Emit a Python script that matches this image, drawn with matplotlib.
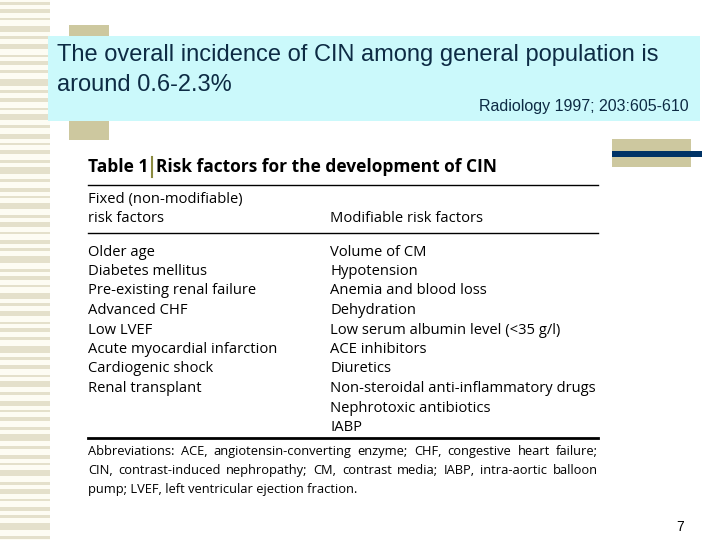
import matplotlib
matplotlib.use("Agg")
import matplotlib.pyplot as plt
from matplotlib.patches import Rectangle

# slide text
headline = ["The overall incidence of CIN among general population is",
            "around 0.6-2.3%"]
reference = "Radiology 1997; 203:605-610"
table_no = "Table 1"
table_title = "Risk factors for the development of CIN"
header_left = ["Fixed (non-modifiable)", "risk factors"]
header_right = "Modifiable risk factors"
fixed_factors = ["Older age", "Diabetes mellitus", "Pre-existing renal failure",
                 "Advanced CHF", "Low LVEF", "Acute myocardial infarction",
                 "Cardiogenic shock", "Renal transplant"]
modifiable_factors = ["Volume of CM", "Hypotension", "Anemia and blood loss",
                      "Dehydration", "Low serum albumin level (<35 g/l)",
                      "ACE inhibitors", "Diuretics",
                      "Non-steroidal anti-inflammatory drugs",
                      "Nephrotoxic antibiotics", "IABP"]
footnote = ["Abbreviations: ACE, angiotensin-converting enzyme; CHF, congestive heart failure;",
            "CIN, contrast-induced nephropathy; CM, contrast media; IABP, intra-aortic balloon",
            "pump; LVEF, left ventricular ejection fraction."]
page_no = "7"

tan = "#cdc89f"
navy = "#003366"
cyan = "#cbf9fb"
ink = "#0d2b44"
tfont = "Open Sans"
body = 10.6

fig = plt.figure(figsize=(7.2, 5.4), dpi=100)
ax = fig.add_axes([0, 0, 1, 1])
ax.set_xlim(0, 720)
ax.set_ylim(540, 0)
ax.axis("off")

# striped strip on the left
ax.add_patch(Rectangle((0, 0), 50, 540, color="#fdfcf3", lw=0))
heights = [3, 4, 2, 6, 3, 5, 2, 4, 3, 7]
y = 2
i = 0
while y < 540:
    h = heights[i % len(heights)]
    ax.add_patch(Rectangle((0, y), 50, h, color="#e4e0cb", lw=0))
    y += h + 4 + (i % 3)
    i += 1

# tan block behind the headline box
ax.add_patch(Rectangle((69, 25), 40, 115, color=tan, lw=0))
ax.add_patch(Rectangle((48, 36), 652, 85, color=cyan, lw=0))

ax.text(57, 55, headline[0], fontsize=17, family="Liberation Sans",
        color=ink, va="center")
ax.text(57, 85, headline[1], fontsize=17, family="Liberation Sans",
        color=ink, va="center")
ax.text(689, 106, reference, fontsize=11.5, family="Liberation Sans",
        color=ink, va="center", ha="right")

# right decoration
ax.add_patch(Rectangle((612, 139), 79, 28, color=tan, lw=0))
ax.add_patch(Rectangle((612, 151), 90, 6, color=navy, lw=0))

# table
x0, x1, xr = 88, 598, 330
t1 = ax.text(x0, 167, table_no, fontsize=12.5, family=tfont, weight="bold",
             va="center", color="black")
fig.canvas.draw()
r = fig.canvas.get_renderer()
inv = ax.transData.inverted()
bb = t1.get_window_extent(r)
xe = inv.transform((bb.x1, 0))[0]
ax.plot([xe + 4, xe + 4], [157, 177], color="#8a8a40", lw=1.5)
ax.text(xe + 8, 167, table_title, fontsize=12.5, family=tfont, weight="bold",
        va="center", color="black")

ax.plot([x0, x1], [185, 185], color="black", lw=1)
ax.text(x0, 200, header_left[0], fontsize=body, family=tfont, va="center")
ax.text(x0, 219, header_left[1], fontsize=body, family=tfont, va="center")
ax.text(xr, 219, header_right, fontsize=body, family=tfont, va="center")
ax.plot([x0, x1], [233, 233], color="black", lw=1)

row_y0, row_dy = 252, 19.5
for k, s in enumerate(fixed_factors):
    ax.text(x0, row_y0 + k * row_dy, s, fontsize=body, family=tfont, va="center")
for k, s in enumerate(modifiable_factors):
    ax.text(xr, row_y0 + k * row_dy, s, fontsize=body, family=tfont, va="center")

ax.plot([x0, x1], [438, 438], color="black", lw=2)


def justify(words, y, left, right, size):
    arts = [ax.text(left, y, w, fontsize=size, family=tfont, va="baseline")
            for w in words]
    fig.canvas.draw()
    widths = []
    for a in arts:
        b = a.get_window_extent(r)
        widths.append(inv.transform((b.x1, 0))[0] - inv.transform((b.x0, 0))[0])
    gap = (right - left - sum(widths)) / (len(words) - 1)
    x = left
    for a, w in zip(arts, widths):
        a.set_x(x)
        x += w + gap


for k, line in enumerate(footnote):
    yy = 455 + k * 19
    if k < len(footnote) - 1:
        justify(line.split(" "), yy, x0, x1, 9.3)
    else:
        ax.text(x0, yy, line, fontsize=9.3, family=tfont, va="baseline")

ax.text(684, 527, page_no, fontsize=10, family="Liberation Sans", ha="right",
        va="center", color="black")

fig.savefig("out.png", dpi=100)
